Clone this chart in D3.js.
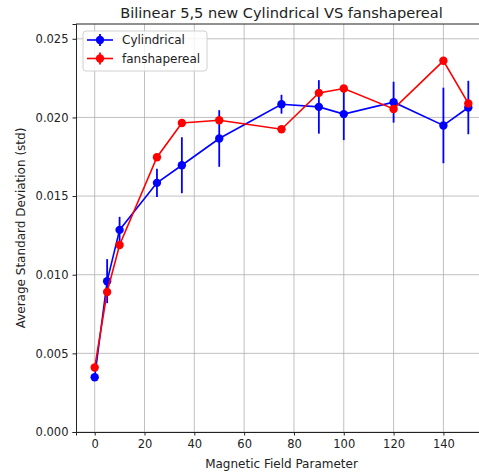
<!DOCTYPE html>
<html lang="en">
<head>
  <meta charset="UTF-8">
  <title>Bilinear 5,5 new Cylindrical VS fanshapereal</title>
  <script src="https://d3js.org/d3.v7.min.js"></script>
  <style>
    body { margin: 0; background: white; }
    svg { display: block; font-family: "DejaVu Sans", sans-serif; }
  </style>
</head>
<body>
  <div id="chart"></div>
  <script>
    const fieldParams = [0, 5, 10, 25, 35, 50, 75, 90, 100, 120, 140, 150]
    const cylValues = [0.00348, 0.00959, 0.01285, 0.01584, 0.01696, 0.01866, 0.02084, 0.02067, 0.02021, 0.02097, 0.01949, 0.02063]
    const cylErrors = [0.0002, 0.0014, 0.00083, 0.0009, 0.00178, 0.0018, 0.0006, 0.0017, 0.00165, 0.0013, 0.0024, 0.0017]
    const fanValues = [0.0041, 0.0089, 0.01189, 0.01747, 0.01965, 0.01982, 0.01925, 0.02156, 0.02184, 0.02054, 0.0236, 0.02089]
    const fanErrors = [0, 0, 0, 0, 0, 0, 0, 0, 0, 0, 0, 0]
    const yTicks = [0, 0.005, 0.010, 0.015, 0.020, 0.025]
    const xTicks = [0, 20, 40, 60, 80, 100, 120, 140]

    const width = 479
    const height = 475
    const plotLeft = 76, plotRight = 487, plotTop = 24, plotBottom = 432

    const svg = d3.select("#chart").append("svg")
      .attr("width", width)
      .attr("height", height)

    const x = d3.scaleLinear().domain([-7.5, 157.5]).range([plotLeft, plotRight])
    const y = d3.scaleLinear().domain([0, 0.02594]).range([plotBottom, plotTop])

    // grid
    svg.append("g").selectAll("line")
      .data(xTicks).enter().append("line")
      .attr("x1", d => x(d)).attr("x2", d => x(d))
      .attr("y1", plotTop).attr("y2", plotBottom)
      .attr("stroke", "#b0b0b0").attr("stroke-width", 0.8)
    svg.append("g").selectAll("line")
      .data(yTicks).enter().append("line")
      .attr("x1", plotLeft).attr("x2", plotRight)
      .attr("y1", d => y(d)).attr("y2", d => y(d))
      .attr("stroke", "#b0b0b0").attr("stroke-width", 0.8)

    const series = [
      { name: "Cylindrical", color: "#0000ff", values: cylValues, errors: cylErrors },
      { name: "fanshapereal", color: "#ff0000", values: fanValues, errors: fanErrors }
    ]

    const line = d3.line().x(d => x(d[0])).y(d => y(d[1]))

    series.forEach(s => {
      const pts = fieldParams.map((p, i) => [p, s.values[i], s.errors[i]])
      const g = svg.append("g")
      g.selectAll(".err").data(pts.filter(d => d[2] > 0)).enter().append("line")
        .attr("x1", d => x(d[0])).attr("x2", d => x(d[0]))
        .attr("y1", d => y(d[1] - d[2])).attr("y2", d => y(d[1] + d[2]))
        .attr("stroke", s.color).attr("stroke-width", 1.8)
      g.append("path").datum(pts)
        .attr("d", line).attr("fill", "none")
        .attr("stroke", s.color).attr("stroke-width", 1.6)
      g.selectAll("circle").data(pts).enter().append("circle")
        .attr("cx", d => x(d[0])).attr("cy", d => y(d[1]))
        .attr("r", 4.2).attr("fill", s.color)
    })

    // axes
    const xAxis = svg.append("g")
      .attr("transform", `translate(0,${plotBottom})`)
      .call(d3.axisBottom(x).tickValues(xTicks).tickSize(3.5).tickPadding(4))
    const yAxis = svg.append("g")
      .attr("transform", `translate(${plotLeft},0)`)
      .call(d3.axisLeft(y).tickValues(yTicks).tickFormat(d3.format(".3f")).tickSize(3.5).tickPadding(4))
    ;[xAxis, yAxis].forEach(a => {
      a.selectAll("text").attr("font-size", 11.5).attr("fill", "#222").attr("font-family", "DejaVu Sans")
      a.selectAll("line").attr("stroke", "#222")
      a.select(".domain").attr("stroke", "#222").attr("stroke-width", 1)
    })
    svg.append("line").attr("x1", plotLeft).attr("x2", plotRight).attr("y1", plotTop).attr("y2", plotTop)
      .attr("stroke", "#222").attr("stroke-width", 1)

    // title and labels
    svg.append("text")
      .attr("x", (plotLeft + plotRight) / 2).attr("y", 18)
      .attr("text-anchor", "middle").attr("font-size", 14.6).attr("fill", "#222")
      .text("Bilinear 5,5 new Cylindrical VS fanshapereal")
    svg.append("text")
      .attr("x", (plotLeft + plotRight) / 2).attr("y", 468)
      .attr("text-anchor", "middle").attr("font-size", 12).attr("fill", "#222")
      .text("Magnetic Field Parameter")
    svg.append("text")
      .attr("transform", `translate(25,${(plotTop + plotBottom) / 2}) rotate(-90)`)
      .attr("text-anchor", "middle").attr("font-size", 12).attr("fill", "#222")
      .text("Average Standard Deviation (std)")

    // legend
    const legend = svg.append("g").attr("transform", "translate(83,31)")
    legend.append("rect")
      .attr("width", 124).attr("height", 40).attr("rx", 3)
      .attr("fill", "white").attr("fill-opacity", 0.8)
      .attr("stroke", "#d0d0d0").attr("stroke-width", 1)
    series.forEach((s, i) => {
      const row = legend.append("g").attr("transform", `translate(0,${9 + i * 18.5})`)
      row.append("line").attr("x1", 4).attr("x2", 30).attr("stroke", s.color).attr("stroke-width", 1.6)
      row.append("line").attr("x1", 17).attr("x2", 17).attr("y1", -6).attr("y2", 6)
        .attr("stroke", s.color).attr("stroke-width", 1.8)
      row.append("circle").attr("cx", 17).attr("r", 4.2).attr("fill", s.color)
      row.append("text").attr("x", 39).attr("dy", "0.35em")
        .attr("font-size", 12).attr("fill", "#222").text(s.name)
    })
  </script>
</body>
</html>
